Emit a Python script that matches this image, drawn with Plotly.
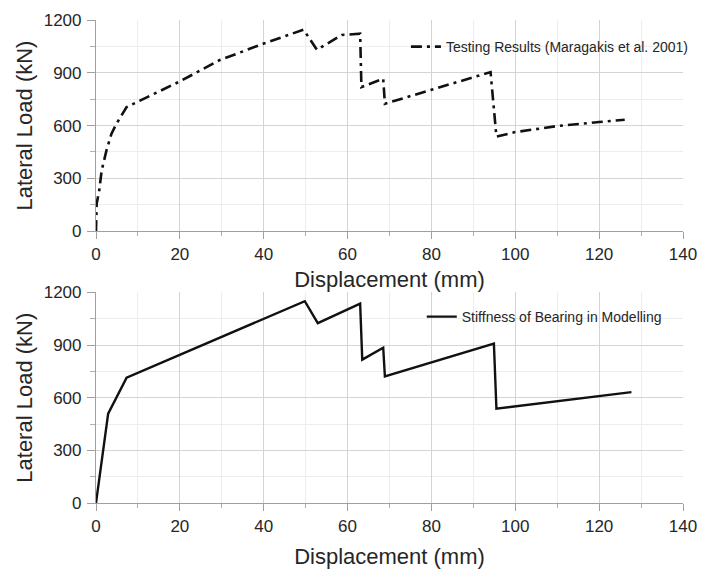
import plotly.graph_objects as go

# Testing results (Maragakis et al. 2001)
test_x = [0, 0.16, 0.8, 1.35, 2.5, 3.7, 4.9, 6.6, 7.3, 20, 29.4, 40, 49.5, 52.7, 58.6, 63.0, 63.3, 68.5, 68.9, 94.1, 95.5, 100, 110, 120, 126.1]
test_y = [0, 156, 235, 345, 459, 554, 611, 677, 705, 851, 971, 1066, 1145, 1031, 1115, 1122, 819, 866, 724, 904, 537, 563, 597, 620, 633]

# Stiffness of bearing in modelling
model_x = [0, 2.9, 7.3, 49.8, 52.9, 63.0, 63.5, 68.5, 68.9, 94.9, 95.5, 110, 127.7]
model_y = [0, 509, 714, 1150, 1025, 1136, 817, 885, 722, 908, 538, 580, 632]

x_ticks = [0, 20, 40, 60, 80, 100, 120, 140]
y_ticks = [0, 300, 600, 900, 1200]

FONT = "Liberation Sans, Arial, sans-serif"
TXT = "#262626"

fig = go.Figure()
fig.add_trace(go.Scatter(x=test_x, y=test_y, mode="lines", xaxis="x", yaxis="y",
                         name="Testing Results (Maragakis et al. 2001)",
                         line=dict(color="#111111", width=2.6, dash="11px,5px,3px,5px"),
                         legend="legend"))
fig.add_trace(go.Scatter(x=model_x, y=model_y, mode="lines", xaxis="x2", yaxis="y2",
                         name="Stiffness of Bearing in Modelling",
                         line=dict(color="#111111", width=2.4),
                         legend="legend2"))

def xax(anchor, standoff):
    return dict(range=[0, 140], tickvals=x_ticks, anchor=anchor,
                showgrid=True, gridcolor="#d4d4d4", gridwidth=1,
                showline=True, linecolor="#a0a0a0", linewidth=1.2,
                ticks="outside", ticklen=7, tickcolor="#a0a0a0",
                minor=dict(dtick=10, tick0=0, showgrid=True, gridcolor="#ededed",
                           ticks="outside", ticklen=4, tickcolor="#b0b0b0"),
                tickfont=dict(size=17, color=TXT, family=FONT),
                title=dict(text="Displacement (mm)", standoff=standoff,
                           font=dict(size=22, color=TXT, family=FONT)),
                zeroline=False, automargin=False)

def yax(anchor, domain):
    return dict(range=[0, 1200], tickvals=y_ticks, anchor=anchor, domain=domain,
                showgrid=True, gridcolor="#d4d4d4", gridwidth=1,
                showline=True, linecolor="#a0a0a0", linewidth=1.2,
                ticks="outside", ticklen=8, tickcolor="#a0a0a0",
                minor=dict(dtick=150, tick0=0, showgrid=True, gridcolor="#ededed",
                           ticks="outside", ticklen=5, tickcolor="#b0b0b0"),
                tickfont=dict(size=17, color=TXT, family=FONT),
                ticklabelstandoff=2,
                title=dict(text="Lateral Load (kN)", standoff=4,
                           font=dict(size=22, color=TXT, family=FONT)),
                zeroline=False, automargin=False)

fig.update_layout(
    width=705, height=573,
    margin=dict(l=96, r=16, t=20, b=70),
    paper_bgcolor="white", plot_bgcolor="white",
    font=dict(family=FONT, color=TXT),
    xaxis=xax("y", 8),
    yaxis=yax("x", [0.5629, 1.0]),
    xaxis2=xax("y2", 14),
    yaxis2=yax("x2", [0.0, 0.436]),
    legend=dict(x=0.528, y=0.944, xanchor="left", yanchor="middle",
                bgcolor="rgba(0,0,0,0)", font=dict(size=14, color=TXT, family=FONT),
                itemwidth=30),
    legend2=dict(x=0.555, y=0.385, xanchor="left", yanchor="middle",
                 bgcolor="rgba(0,0,0,0)", font=dict(size=14, color=TXT, family=FONT),
                 itemwidth=30),
    showlegend=True,
)

fig.write_html("out.html")
